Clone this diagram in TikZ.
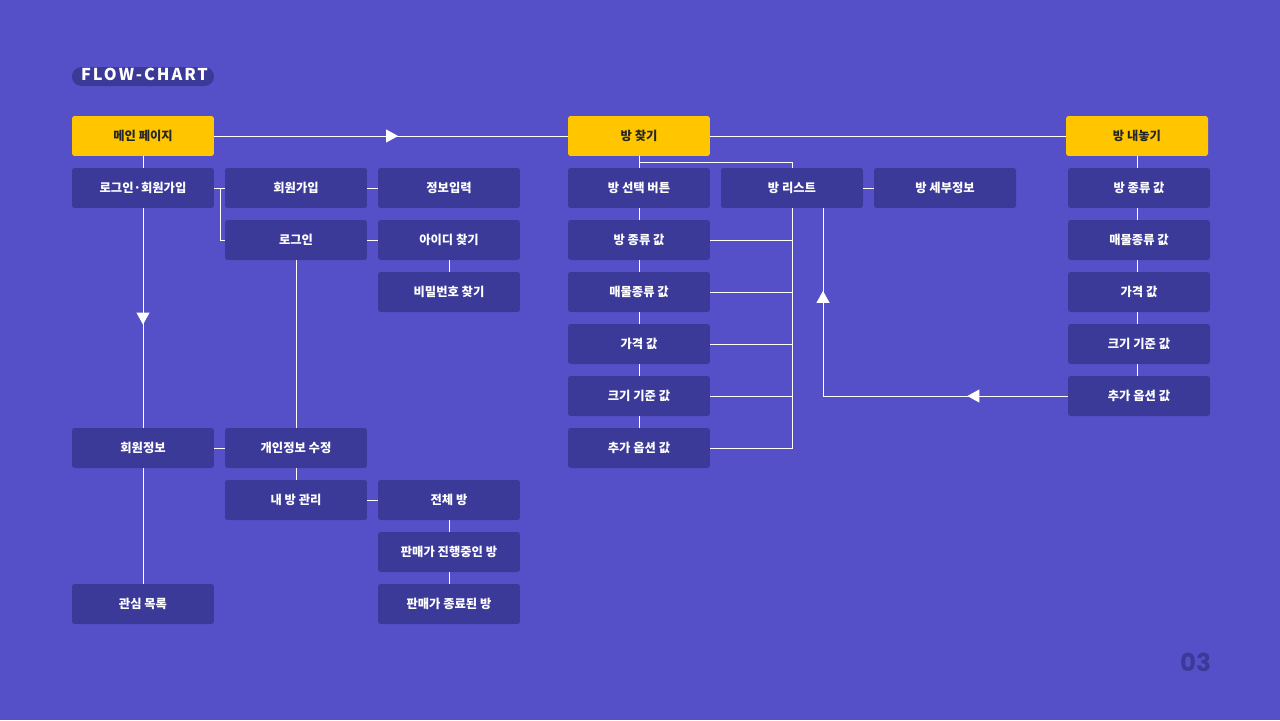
\documentclass[tikz,border=0pt]{standalone}
\usepackage{fontspec}
\setmainfont{Noto Sans CJK KR}
\newfontfamily\titlefont[LetterSpace=12]{Noto Sans CJK KR}
\newfontfamily\pagefont{Poppins}
\usepackage{tikz}
\usetikzlibrary{arrows.meta,decorations.markings}
\definecolor{bgblue}{HTML}{5650C8}
\definecolor{boxblue}{HTML}{3C3A98}
\definecolor{mainyellow}{HTML}{FFC600}
\tikzstyle{page}=[fill=boxblue, text=white, font=\fontsize{7}{8}\selectfont\bfseries,
    minimum width=2.84cm, minimum height=0.8cm, inner sep=0pt, rounded corners=1.5pt]
\tikzstyle{mainpage}=[page, fill=mainyellow, text=black!85]
\tikzstyle{link}=[draw=white, line width=0.5pt]
\tikzset{midarrow/.style={link, postaction={decorate}, decoration={markings,
    mark=at position #1 with {\arrow[white]{Triangle[length=0.24cm,width=0.26cm]}}}}}

\begin{document}
\begin{tikzpicture}[x=0.02cm, y=-0.02cm]
\useasboundingbox (0,0) rectangle (1280,720);
\fill [bgblue] (0,0) rectangle (1280,720);
% title
\fill [boxblue, rounded corners=5.3pt] (72,67) rectangle (214,86);
\path (144.5,74) node [text=white, font=\fontsize{9.3}{10}\selectfont\titlefont\bfseries] (title) {FLOW-CHART};
\path (1195.5,662) node [text=boxblue, font=\fontsize{14}{15}\selectfont\pagefont\bfseries] (pagenum) {03};
% main pages
\path (143,136) node [mainpage] (main) {메인 페이지};
\path (639,136) node [mainpage] (find) {방 찾기};
\path (1137,136) node [mainpage] (sell) {방 내놓기};
% member
\path (143,188) node [page] (login) {로그인·회원가입};
\path (296,188) node [page] (join) {회원가입};
\path (449,188) node [page] (info) {정보입력};
\path (296,240) node [page] (signin) {로그인};
\path (449,240) node [page] (findid) {아이디 찾기};
\path (449,292) node [page] (findpw) {비밀번호 찾기};
\path (143,448) node [page] (member) {회원정보};
\path (296,448) node [page] (edit) {개인정보 수정};
\path (296,500) node [page] (myroom) {내 방 관리};
\path (449,500) node [page] (allroom) {전체 방};
\path (449,552) node [page] (onsale) {판매가 진행중인 방};
\path (449,604) node [page] (soldout) {판매가 종료된 방};
\path (143,604) node [page] (wish) {관심 목록};
% find room
\path (639,188) node [page] (select) {방 선택 버튼};
\path (639,240) node [page] (ftype) {방 종류 값};
\path (639,292) node [page] (fkind) {매물종류 값};
\path (639,344) node [page] (fprice) {가격 값};
\path (639,396) node [page] (fsize) {크기 기준 값};
\path (639,448) node [page] (foption) {추가 옵션 값};
\path (792,188) node [page] (list) {방 리스트};
\path (945,188) node [page] (detail) {방 세부정보};
% sell room
\path (1139,188) node [page] (stype) {방 종류 값};
\path (1139,240) node [page] (skind) {매물종류 값};
\path (1139,292) node [page] (sprice) {가격 값};
\path (1139,344) node [page] (ssize) {크기 기준 값};
\path (1139,396) node [page] (soption) {추가 옵션 값};
% arrows
\draw [midarrow=0.52] (main) -- (find);
\draw [link] (find) -- (sell);
\draw [link] (main) -- (login);
\draw [midarrow=0.53] (login) -- (member);
\draw [link] (member) -- (wish);
\draw [link] (login.east) -- ++(6,0) |- (signin.west);
\draw [link] (login.east) -- (join.west);
\draw [link] (join) -- (info);
\draw [link] (signin) -- (findid);
\draw [link] (findid) -- (findpw);
\draw [link] (signin) -- (edit);
\draw [link] (member) -- (edit);
\draw [link] (edit) -- (myroom);
\draw [link] (myroom) -- (allroom);
\draw [link] (allroom) -- (onsale);
\draw [link] (onsale) -- (soldout);
% find room links
\draw [link] (find) -- (select);
\draw [link] (find.south) -- ++(0,6) -| (list.north);
\draw [link] (select) -- (ftype);
\draw [link] (ftype) -- (fkind);
\draw [link] (fkind) -- (fprice);
\draw [link] (fprice) -- (fsize);
\draw [link] (fsize) -- (foption);
\draw [link] (list.south) |- (foption.east);
\foreach \n in {ftype,fkind,fprice,fsize}
  \draw [link] (\n.east) -- (\n.east -| list.south);
\draw [link] (list) -- (detail);
% sell room links
\draw [link] (sell.south) -- (sell.south |- stype.north);
\foreach \a/\b in {stype/skind,skind/sprice,sprice/ssize,ssize/soption}
  \draw [link] (\a.south -| sell) -- (\b.north -| sell);
\coordinate (bend) at (823,396);
\draw [midarrow=0.41] (soption.west) -- (bend);
\draw [midarrow=0.56] (bend) -- (bend |- list.south);
\end{tikzpicture}
\end{document}
